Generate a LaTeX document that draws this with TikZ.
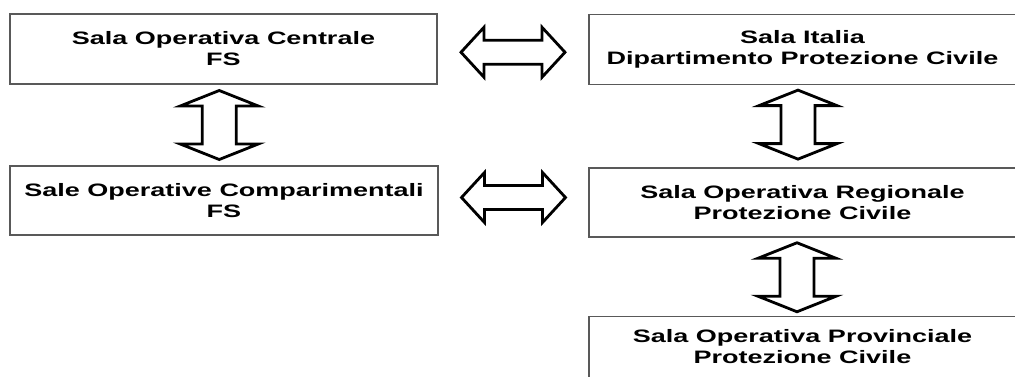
\documentclass[tikz,border=0pt]{standalone}
\usepackage{fontspec}
\setmainfont{Liberation Sans}[FakeStretch=1.5]
\usetikzlibrary{calc}
\tikzset{
  box/.style={draw=black!65, line width=1.3pt, fill=white, inner sep=0pt,
    align=center, font=\fontsize{18}{21}\selectfont\bfseries},
  blockarrow/.style={draw=black, line width=2.8pt, fill=white, line join=miter},
}
\newcommand{\harrow}[1]{%
  \draw[blockarrow] #1 ++(-52,0) -- ++(23,-25) -- ++(0,13) -- ++(58,0) -- ++(0,-13)
    -- ++(23,25) -- ++(-23,25) -- ++(0,-13) -- ++(-58,0) -- ++(0,13) -- cycle;}
\newcommand{\varrow}[1]{%
  \draw[blockarrow] #1 ++(0,-34.5) -- ++(39,15.5) -- ++(-22,0) -- ++(0,38) -- ++(22,0)
    -- ++(-39,15.5) -- ++(-39,-15.5) -- ++(22,0) -- ++(0,-38) -- ++(-22,0) -- cycle;}
\begin{document}
\begin{tikzpicture}[x=1pt,y=-1pt]
\useasboundingbox (0,0) rectangle (1015,376);
\clip (0,0) rectangle (1015,376);
\fill[white] (0,0) rectangle (1015,376);
\node[box, minimum width=427pt, minimum height=70pt] (b1) at (223.5,49) {Sala Operativa Centrale\\FS};
\node[box, minimum width=427pt, minimum height=69.5pt] (b2) at (802.5,49.5) {Sala Italia\\Dipartimento Protezione Civile};
\node[box, minimum width=428pt, minimum height=69pt] (b3) at (224,200.5) {Sale Operative Comparimentali\\FS};
\node[box, minimum width=427pt, minimum height=69pt] (b4) at (802.5,202.5) {Sala Operativa Regionale\\Protezione Civile};
\node[box, minimum width=427pt, minimum height=61pt] (b5) at (802.5,347) {Sala Operativa Provinciale\\Protezione Civile};
\harrow{($(b1.east)!0.5!(b2.west)+(0,3)$)}
\harrow{($(b3.east)!0.5!(b4.west)+(0,-4)$)}
\varrow{($(b1.south)!0.5!(b3.north)+(-4.5,0)$)}
\varrow{($(b2.south)!0.5!(b4.north)+(-4.5,-1.5)$)}
\varrow{($(b4.south)!0.5!(b5.north)+(-5.5,0.5)$)}
\end{tikzpicture}
\end{document}
